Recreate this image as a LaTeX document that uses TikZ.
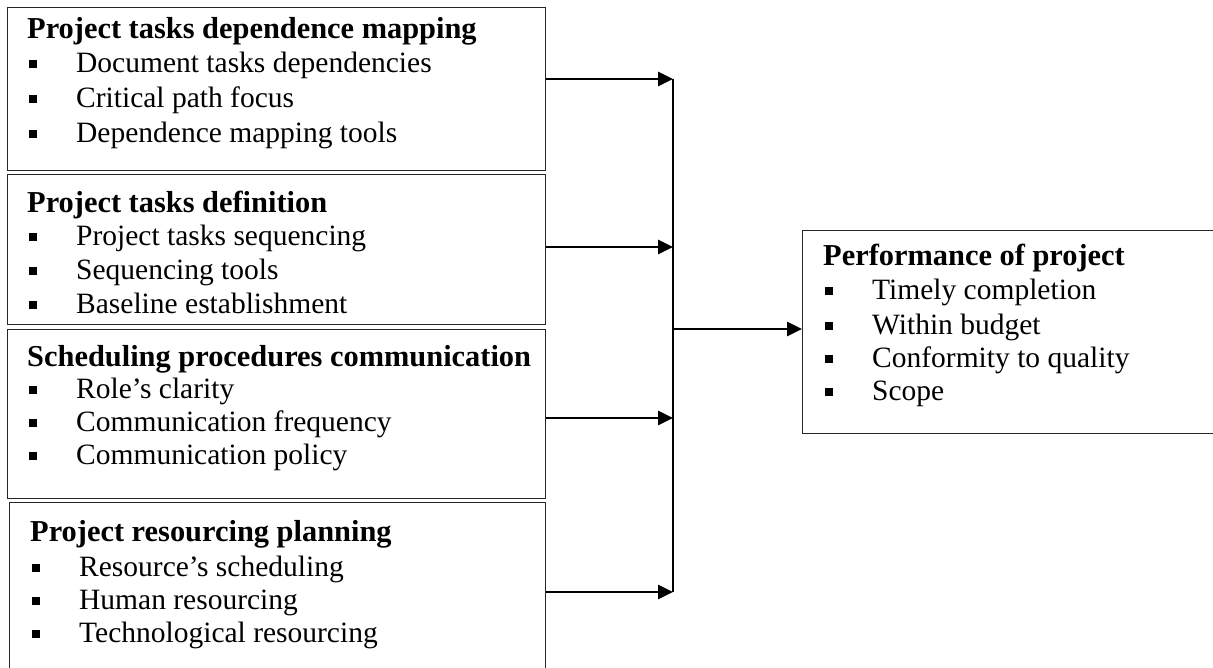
\documentclass[tikz,border=0pt]{standalone}
\usepackage{fontspec}
\setmainfont{Liberation Serif}
\usetikzlibrary{arrows.meta}
\tikzset{
 frame/.style={draw=black!85, line width=1.3pt, inner sep=0pt, anchor=north west},
 ttl/.style={anchor=base west, inner sep=0pt, font=\fontsize{30.4}{34}\selectfont\bfseries},
 itm/.style={anchor=base west, inner sep=0pt, font=\fontsize{29.5}{34}\selectfont},
 link/.style={line width=2.8pt, -{Triangle[length=15pt,width=14pt]}},
 spine/.style={line width=2.2pt},
}
\newcommand{\bul}{\makebox[47pt][l]{\rule[4.5pt]{8pt}{8pt}}}
\begin{document}
\begin{tikzpicture}[x=1pt,y=-1pt]
\useasboundingbox (0,0) rectangle (1213,667);
\clip (0,0) rectangle (1213,667);
% boxes
\node[frame, minimum width=538pt, minimum height=163pt] (b1) at (7,7) {};
\node[frame, minimum width=538pt, minimum height=150pt] (b2) at (7,174) {};
\node[frame, minimum width=538pt, minimum height=169pt] (b3) at (7,329) {};
\node[frame, minimum width=536pt, minimum height=200pt] (b4) at (9,502) {};
\node[frame, minimum width=450pt, minimum height=203pt] (r) at (802,230) {};
% box 1
\node[ttl] (t1) at (27,38) {Project tasks dependence mapping};
\node[itm] (i11) at (29,72) {\bul Document tasks dependencies};
\node[itm] (i12) at (29,107) {\bul Critical path focus};
\node[itm] (i13) at (29,142) {\bul Dependence mapping tools};
% box 2
\node[ttl] (t2) at (27,212) {Project tasks definition};
\node[itm] (i21) at (29,245) {\bul Project tasks sequencing};
\node[itm] (i22) at (29,279) {\bul Sequencing tools};
\node[itm] (i23) at (29,313) {\bul Baseline establishment};
% box 3
\node[ttl] (t3) at (27,366) {Scheduling procedures communication};
\node[itm] (i31) at (29,398) {\bul Role’s clarity};
\node[itm] (i32) at (29,431) {\bul Communication frequency};
\node[itm] (i33) at (29,464) {\bul Communication policy};
% box 4
\node[ttl] (t4) at (30,541) {Project resourcing planning};
\node[itm] (i41) at (32,576) {\bul Resource’s scheduling};
\node[itm] (i42) at (32,609) {\bul Human resourcing};
\node[itm] (i43) at (32,642) {\bul Technological resourcing};
% right box
\node[ttl] (tr) at (823,265) {Performance of project};
\node[itm] (ir1) at (825,299) {\bul Timely completion};
\node[itm] (ir2) at (825,334) {\bul Within budget};
\node[itm] (ir3) at (825,367) {\bul Conformity to quality};
\node[itm] (ir4) at (825,400) {\bul Scope};
% connectors
\coordinate (j1) at (673,79);
\coordinate (j2) at (673,247);
\coordinate (j3) at (673,418);
\coordinate (j4) at (673,592);
\coordinate (jm) at (673,329);
\draw[spine] (j1) -- (j4);
\draw[link] (b1.east |- j1) -- (j1);
\draw[link] (b2.east |- j2) -- (j2);
\draw[link] (b3.east |- j3) -- (j3);
\draw[link] (b4.east |- j4) -- (j4);
\draw[link] (jm) -- (jm -| r.west);
\end{tikzpicture}
\end{document}
